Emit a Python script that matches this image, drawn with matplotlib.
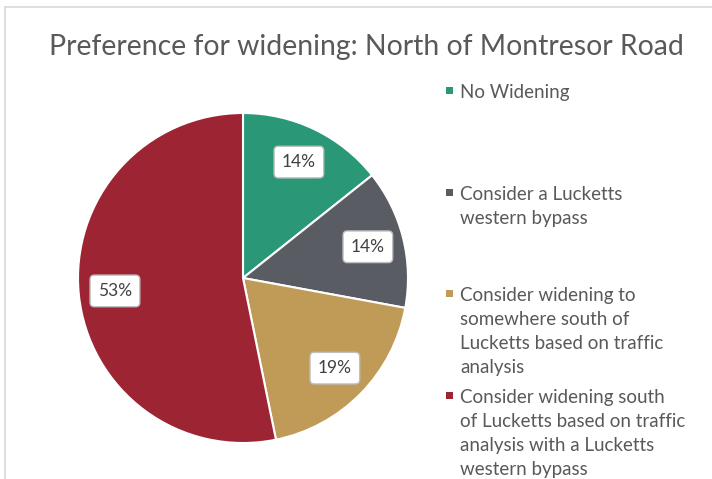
import matplotlib
matplotlib.use("Agg")
import matplotlib.pyplot as plt
from matplotlib.lines import Line2D
from matplotlib.patches import Rectangle

title = "Preference for widening: North of Montresor Road"
categories = [
    "No Widening",
    "Consider a Lucketts\nwestern bypass",
    "Consider widening to\nsomewhere south of\nLucketts based on traffic\nanalysis",
    "Consider widening south\nof Lucketts based on traffic\nanalysis with a Lucketts\nwestern bypass",
]
shares = [14.3, 13.6, 18.9, 53.2]
colors = ["#2A9877", "#595C63", "#C09A57", "#9C2433"]
legend_y_px = [91, 193, 294, 396]

W, H = 712, 479
plt.rcParams['font.family'] = ['Lato', 'DejaVu Sans']
fig = plt.figure(figsize=(W / 100, H / 100), dpi=100)

# frame lines
fig.add_artist(Line2D([5 / W, 1], [1 - 7 / H, 1 - 7 / H], color="#D9D9D9", lw=1.2))
fig.add_artist(Line2D([5 / W, 5 / W], [0, 1 - 7 / H], color="#D9D9D9", lw=1.2))

cx, cy, r = 243, 278, 165
ax = fig.add_axes([(cx - r) / W, (H - cy - r) / H, 2 * r / W, 2 * r / H])
wedges, texts, autotexts = ax.pie(
    shares, colors=colors, startangle=90, counterclock=False,
    autopct=lambda p: f"{p:.0f}%", pctdistance=0.78,
    wedgeprops=dict(edgecolor="white", linewidth=1.5),
    textprops=dict(fontsize=12.5, color="#404040"),
)
for t in autotexts:
    t.set_bbox(dict(boxstyle="round,pad=0.45,rounding_size=0.25", facecolor="white",
                    edgecolor="#BFBFBF", linewidth=1.0))
ax.set_xlim(-1, 1)
ax.set_ylim(-1, 1)
ax.set_aspect("equal")
ax.axis("off")

fig.text(366 / W, 1 - 47 / H, title, ha="center", va="center", fontsize=20.4, color="#595959")

for lab, col, ypx in zip(categories, colors, legend_y_px):
    fig.add_artist(Rectangle((446 / W, 1 - (ypx + 3) / H), 7 / W, 7 / H, facecolor=col,
                             edgecolor="none", transform=fig.transFigure))
    fig.text(460 / W, 1 - (ypx - 7) / H, lab, ha="left", va="top", fontsize=13.5,
             color="#595959", linespacing=1.5)

fig.savefig("out.png", dpi=100)
